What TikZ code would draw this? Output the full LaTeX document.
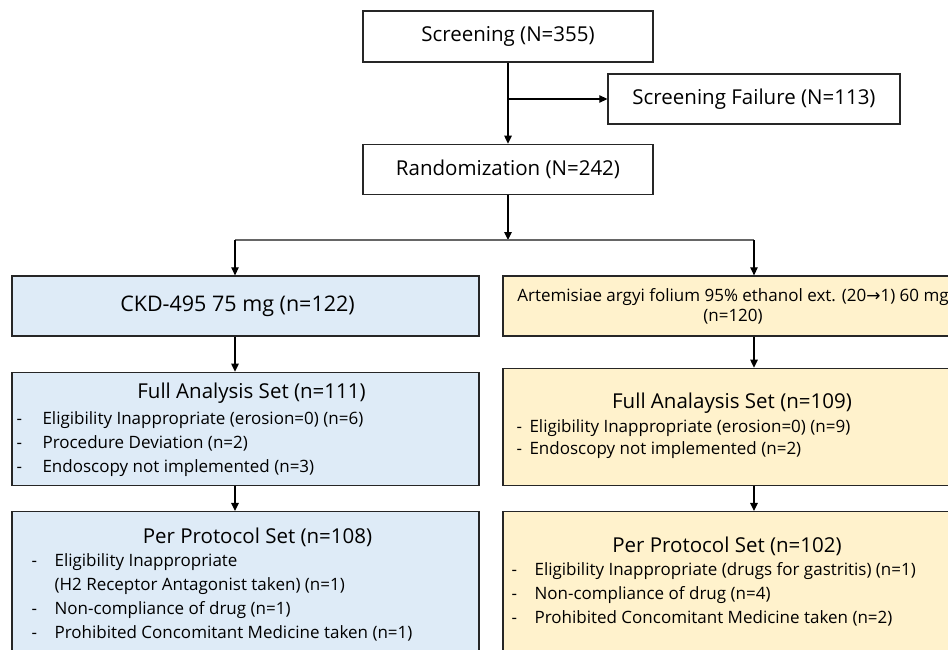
\documentclass[tikz,border=0pt]{standalone}
\usepackage{fontspec}
\setmainfont{Open Sans}
\newfontfamily\arrowfont{DejaVu Sans}
\usetikzlibrary{arrows.meta,positioning}
\definecolor{armblue}{HTML}{DEEBF7}
\definecolor{armyellow}{HTML}{FFF2CC}
\newcommand{\dashitem}[2]{\makebox[#1][l]{-}#2}

\begin{document}
\begin{tikzpicture}[
    x=1pt, y=1pt,
    box/.style={rectangle, draw=black!85, line width=1.3pt, inner sep=0pt, align=center, font=\fontsize{20.5}{24}\selectfont},
    bluebox/.style={box, fill=armblue, minimum width=467pt},
    yellowbox/.style={box, fill=armyellow, minimum width=460pt},
    title/.style={inner sep=0pt, font=\fontsize{20.5}{24}\selectfont},
    items/.style={inner sep=0pt, align=left, anchor=north west, font=\fontsize{17}{24}\selectfont},
    arrow/.style={-{Triangle[length=8pt,width=7.5pt]}, line width=1.2pt},
    branch/.style={draw=black!60, line width=1.2pt},
    node distance=25pt
]
\useasboundingbox (0,0) rectangle (948,-650);
\clip (0,0) rectangle (948,-650);

% screening and randomization
\node[box, minimum width=290pt, minimum height=51pt] (scr) at (508,-36.5) {Screening (N=355)};
\node[box, minimum width=292pt, minimum height=50pt] (fail) at (754,-99) {Screening Failure (N=113)};
\node[box, minimum width=290pt, minimum height=50pt, below=81pt of scr] (rand) {Randomization (N=242)};

% treatment arms
\node[bluebox, minimum height=60pt, font=\fontsize{21.5}{24}\selectfont] (ckd) at (245.5,-306)
    {CKD-495 75 mg (n=122)\hspace*{16pt}};
\node[yellowbox, minimum height=60pt, font=\fontsize{17}{20}\selectfont] (art) at (733,-306)
    {Artemisiae argyi folium 95\% ethanol ext. (20{\arrowfont →}1) 60 mg\\(n=120)};

% full analysis sets
\node[bluebox, minimum height=113pt, below=35pt of ckd] (fasL) {};
\node[yellowbox, minimum height=117pt, below=31pt of art] (fasR) {};
\node[title] (fasLtitle) at ([xshift=6pt,yshift=-22pt]fasL.north) {Full Analysis Set (n=111)};
\node[items] (fasLitems) at ([xshift=5pt,yshift=-40pt]fasL.north west)
    {\dashitem{26pt}{Eligibility Inappropriate (erosion=0) (n=6)}\\
     \dashitem{26pt}{Procedure Deviation (n=2)}\\
     \dashitem{26pt}{Endoscopy not implemented (n=3)}};
\node[title] (fasRtitle) at ([xshift=-1pt,yshift=-36pt]fasR.north) {Full Analaysis Set (n=109)};
\node[items, font=\fontsize{17}{22}\selectfont] (fasRitems) at ([xshift=14pt,yshift=-52pt]fasR.north west)
    {\dashitem{13pt}{Eligibility Inappropriate (erosion=0) (n=9)}\\
     \dashitem{13pt}{Endoscopy not implemented (n=2)}};

% per protocol sets
\node[bluebox, minimum height=160pt, below=of fasL] (ppsL) {};
\node[yellowbox, minimum height=160pt, below=of fasR] (ppsR) {};
\node[title] (ppsLtitle) at ([xshift=12pt,yshift=-26pt]ppsL.north) {Per Protocol Set (n=108)};
\node[items] (ppsLitems) at ([xshift=20pt,yshift=-42pt]ppsL.north west)
    {\dashitem{23pt}{Eligibility Inappropriate}\\
     \makebox[23pt]{}(H2 Receptor Antagonist taken) (n=1)\\
     \dashitem{23pt}{Non-compliance of drug (n=1)}\\
     \dashitem{23pt}{Prohibited Concomitant Medicine taken (n=1)}};
\node[title] (ppsRtitle) at ([xshift=-6pt,yshift=-35pt]ppsR.north) {Per Protocol Set (n=102)};
\node[items] (ppsRitems) at ([xshift=9pt,yshift=-51pt]ppsR.north west)
    {\dashitem{23pt}{Eligibility Inappropriate (drugs for gastritis) (n=1)}\\
     \dashitem{23pt}{Non-compliance of drug (n=4)}\\
     \dashitem{23pt}{Prohibited Concomitant Medicine taken (n=2)}};

% connectors
\coordinate (brL) at (235,-240);
\coordinate (brR) at (754,-240);
\draw[arrow] (scr) -- (rand);
\draw[arrow] (scr.south |- fail.west) -- (fail.west);
\draw[arrow] (rand) -- (rand.south |- brL);
\draw[branch] (brL) -- (brR);
\draw[arrow] (brL) -- (brL |- ckd.north);
\draw[arrow] (brR) -- (brR |- art.north);
\draw[arrow] (brL |- ckd.south) -- (brL |- fasL.north);
\draw[arrow] (brR |- art.south) -- (brR |- fasR.north);
\draw[arrow] (brL |- fasL.south) -- (brL |- ppsL.north);
\draw[arrow] (brR |- fasR.south) -- (brR |- ppsR.north);
\end{tikzpicture}
\end{document}
